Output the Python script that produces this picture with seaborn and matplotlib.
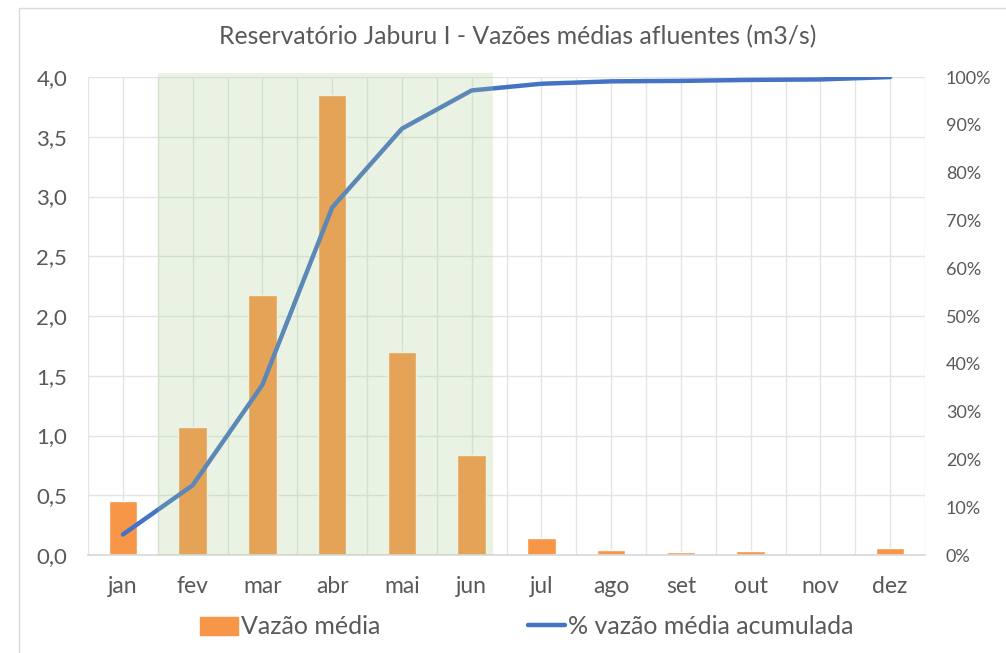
import numpy as np
import pandas as pd
import matplotlib
matplotlib.use('Agg')
import matplotlib.pyplot as plt
import matplotlib.ticker as mticker
from matplotlib.patches import Rectangle
import seaborn as sns

meses = ['jan', 'fev', 'mar', 'abr', 'mai', 'jun', 'jul', 'ago', 'set', 'out', 'nov', 'dez']
vazao_media = [0.45, 1.07, 2.18, 3.85, 1.70, 0.84, 0.14, 0.04, 0.025, 0.03, 0.0, 0.06]
pct_acumulada = [4.3, 14.6, 35.6, 72.7, 89.2, 97.2, 98.6, 99.1, 99.2, 99.4, 99.5, 100.0]
# periodo chuvoso destacado (fev a jun)
inicio_destaque, fim_destaque = 'fev', 'jun'

df = pd.DataFrame({'mes': meses, 'vazao': vazao_media, 'acum': pct_acumulada})

sns.set_theme(style='white')
plt.rcParams['font.family'] = ['Lato', 'DejaVu Sans']
cinza = '#595959'

fig = plt.figure(figsize=(10.06, 6.53), dpi=100)
ax = fig.add_axes([0.0875, 0.150, 0.832, 0.732])

sns.barplot(data=df, x='mes', y='vazao', color='#F79646', saturation=1,
            width=0.41, ax=ax, zorder=2)
ax.set_ylim(0, 4.0)
ax.set_xlim(-0.5, 11.5)
ax.set_yticks(np.arange(0, 4.01, 0.5))
ax.yaxis.set_major_formatter(mticker.FuncFormatter(lambda v, p: f'{v:.1f}'.replace('.', ',')))
ax.set_xticks(np.arange(-0.5, 11.6, 1.0), minor=True)
ax.grid(True, which='both', axis='both', color='#E4E4E4', lw=1, zorder=0)
ax.set_axisbelow(True)
ax.set_xlabel('')
ax.set_ylabel('')
for s in ['top', 'right', 'left']:
    ax.spines[s].set_visible(False)
ax.spines['bottom'].set_color('#D9D9D9')
ax.tick_params(axis='both', which='both', length=0, labelsize=16, colors=cinza, pad=15)
ax.tick_params(axis='x', labelsize=16.5, pad=15)

ax2 = ax.twinx()
sns.lineplot(x=np.arange(len(meses)), y=df['acum'], color='#4472C4', lw=3.2, ax=ax2,
             zorder=3, solid_capstyle='round')
ax2.set_ylim(0, 100)
ax2.set_yticks(np.arange(0, 101, 10))
ax2.yaxis.set_major_formatter(mticker.FuncFormatter(lambda v, p: f'{v:.0f}%'))
ax2.tick_params(axis='y', length=0, labelsize=13, colors=cinza, pad=15)
ax2.set_ylabel('')
for s in ax2.spines.values():
    s.set_visible(False)
ax2.set_xlim(-0.5, 11.5)

i0 = meses.index(inicio_destaque) - 0.5
i1 = meses.index(fim_destaque) + 0.3
ax2.axvspan(i0, i1, ymin=0, ymax=1.008, color='#A9D08E', alpha=0.24, lw=0, zorder=5,
            clip_on=False)

fig.suptitle('Reservatório Jaburu I - Vazões médias afluentes (m3/s)', x=0.515, y=0.962,
             fontsize=17.8, color=cinza)

h1 = Rectangle((0, 0), 1, 1, color='#F79646')
h2 = plt.Line2D([0], [0], color='#4472C4', lw=3.2)
leg = fig.legend([h1, h2], ['Vazão média', '% vazão média acumulada'], loc='center',
                 bbox_to_anchor=(0.524, 0.040), ncol=2, frameon=False, fontsize=18,
                 handlelength=1.5, handleheight=0.75, handletextpad=0.12, columnspacing=5.9)
for t in leg.get_texts():
    t.set_color(cinza)

fig.patches.append(Rectangle((0.019, -0.01), 1.0, 0.998, transform=fig.transFigure,
                             fill=False, ec='#D9D9D9', lw=1))

fig.savefig('out.png', dpi=100)
